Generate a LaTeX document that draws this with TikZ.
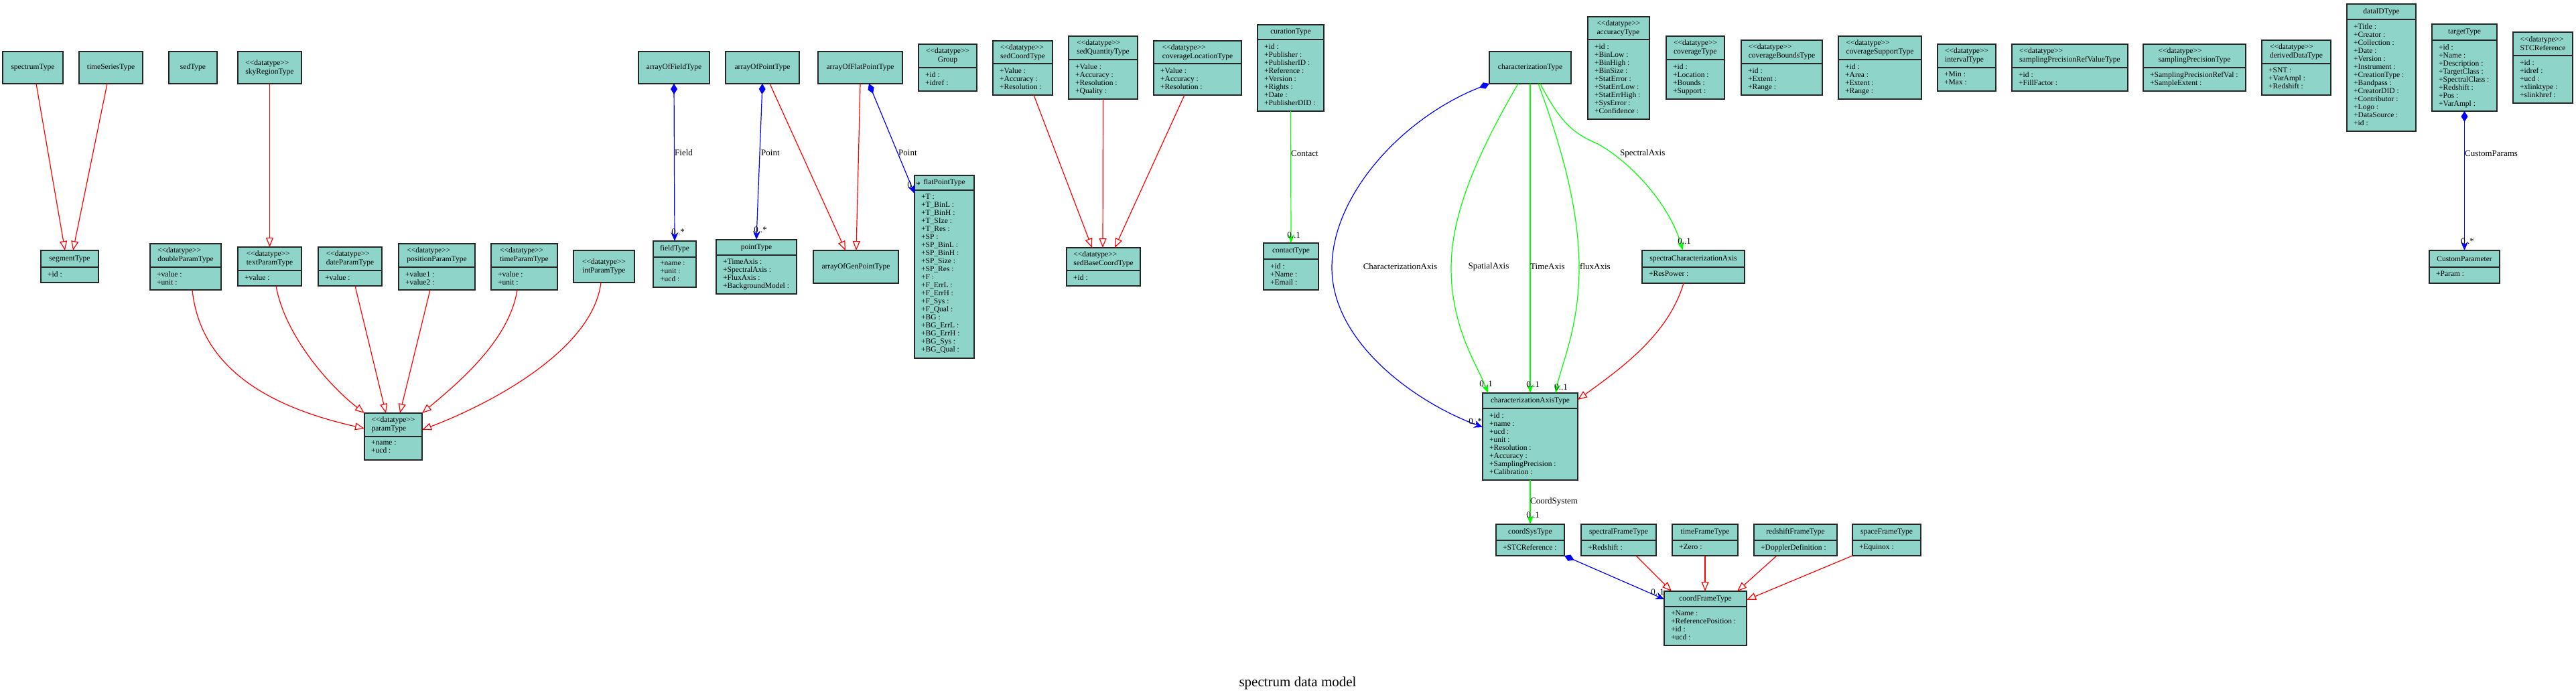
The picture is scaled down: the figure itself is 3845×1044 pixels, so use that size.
\documentclass[tikz,border=0pt]{standalone}
\usepackage{fontspec}
\setmainfont{Liberation Serif}
\usetikzlibrary{arrows.meta}
\definecolor{clsfill}{RGB}{142,212,200}
\newcommand\dtype{<\kern0pt<datatype>\kern0pt>}
\newcommand\umlclass[8]{%
  \pgfmathsetmacro\umlw{#4-#2}%
  \pgfmathsetmacro\umlh{#5-#3}%
  \node[cls, minimum width=\umlw pt, minimum height=\umlh pt, anchor=north west] (#1) at (#2,#3) {};
  \ifx\relax#6\relax
    \node[hdr] (#1-h) at (#1.center) {#7};
  \else
    \draw[sepl] (#2,#6) -- (#4,#6);
    \node[hdr] (#1-h) at ({(#2+#4)/2},{(#3+#6)/2}) {#7};
    \node[attr] (#1-a) at (#2+10,#6+6) {#8};
  \fi}
\begin{document}
\begin{tikzpicture}[x=1pt,y=-1pt,
  cls/.style={draw=black!85, line width=1.6pt, fill=clsfill, inner sep=0pt, outer sep=0pt},
  sepl/.style={draw=black!85, line width=1.6pt},
  hdr/.style={font=\fontsize{11.5}{13}\selectfont, align=left, inner sep=0pt},
  attr/.style={font=\fontsize{11.5}{12}\selectfont, align=left, inner sep=0pt, anchor=north west},
  lbl/.style={font=\fontsize{13}{15}\selectfont, inner sep=0pt},
  gen/.style={draw=red, line width=1.2pt, -{Triangle[open, length=14pt, width=11pt]}},
  comp/.style={draw=blue, line width=1.2pt, {Diamond[length=16pt, width=10pt]}-{Stealth[length=13pt, width=11pt]}},
  assoc/.style={draw=green, line width=1.2pt, -{Stealth[length=13pt, width=10pt]}}]
\useasboundingbox (0,0) rectangle (3845,1044);

% ---------- classes ----------
\umlclass{spectrumType}{4}{77}{94}{125}{}{spectrumType}{}
\umlclass{timeSeriesType}{118}{77}{213}{125}{}{timeSeriesType}{}
\umlclass{sedType}{252}{77}{324}{125}{}{sedType}{}
\umlclass{skyRegionType}{355}{77}{450}{125}{}{\dtype\\skyRegionType}{}
\umlclass{segmentType}{61}{374}{147}{422}{399}{segmentType}{+id :}
\umlclass{doubleParamType}{224}{364}{330}{433}{399}{\dtype\\doubleParamType}{+value :\\+unit :}
\umlclass{textParamType}{355}{369}{450}{427}{404}{\dtype\\textParamType}{+value :}
\umlclass{dateParamType}{475}{369}{570}{427}{404}{\dtype\\dateParamType}{+value :}
\umlclass{positionParamType}{595}{364}{709}{433}{399}{\dtype\\positionParamType}{+value1 :\\+value2 :}
\umlclass{timeParamType}{733}{364}{832}{433}{399}{\dtype\\timeParamType}{+value :\\+unit :}
\umlclass{intParamType}{856}{374}{947}{422}{}{\dtype\\intParamType}{}
\umlclass{paramType}{544}{617}{630}{687}{652}{\dtype\\paramType}{+name :\\+ucd :}
\umlclass{arrayOfFieldType}{953}{77}{1059}{125}{}{arrayOfFieldType}{}
\umlclass{arrayOfPointType}{1083}{77}{1193}{125}{}{arrayOfPointType}{}
\umlclass{arrayOfFlatPointType}{1221}{77}{1347}{125}{}{arrayOfFlatPointType}{}
\umlclass{fieldType}{975}{360}{1039}{429}{384}{fieldType}{+name :\\+unit :\\+ucd :}
\umlclass{pointType}{1069}{358}{1189}{439}{381}{pointType}{+TimeAxis :\\+SpectralAxis :\\+FluxAxis :\\+BackgroundModel :}
\umlclass{arrayOfGenPointType}{1214}{374}{1341}{423}{}{arrayOfGenPointType}{}
\umlclass{flatPointType}{1365}{262}{1454}{535}{284}{flatPointType}{+T :\\+T\_BinL :\\+T\_BinH :\\+T\_SIze :\\+T\_Res :\\+SP :\\+SP\_BinL :\\+SP\_BinH :\\+SP\_Size :\\+SP\_Res :\\+F :\\+F\_ErrL :\\+F\_ErrH :\\+F\_Sys :\\+F\_Qual :\\+BG :\\+BG\_ErrL :\\+BG\_ErrH :\\+BG\_Sys :\\+BG\_Qual :}
\begin{scope}[hdr/.append style={align=center}]
\umlclass{Group}{1371}{66}{1458}{136}{101}{\dtype\\Group}{+id :\\+idref :}
\end{scope}
\umlclass{sedCoordType}{1482}{61}{1571}{142}{95}{\dtype\\sedCoordType}{+Value :\\+Accuracy :\\+Resolution :}
\umlclass{sedQuantityType}{1595}{54}{1698}{148}{89}{\dtype\\sedQuantityType}{+Value :\\+Accuracy :\\+Resolution :\\+Quality :}
\umlclass{coverageLocationType}{1722}{61}{1853}{142}{95}{\dtype\\coverageLocationType}{+Value :\\+Accuracy :\\+Resolution :}
\umlclass{sedBaseCoordType}{1592}{370}{1702}{427}{404}{\dtype\\sedBaseCoordType}{+id :}
\umlclass{curationType}{1877}{37}{1976}{166}{59}{curationType}{+id :\\+Publisher :\\+PublisherID :\\+Reference :\\+Version :\\+Rights :\\+Date :\\+PublisherDID :}
\umlclass{contactType}{1886}{363}{1968}{433}{387}{contactType}{+id :\\+Name :\\+Email :}
\umlclass{characterizationType}{2223}{77}{2345}{125}{}{characterizationType}{}
\umlclass{accuracyType}{2370}{25}{2462}{178}{59}{\dtype\\accuracyType}{+id :\\+BinLow :\\+BinHigh :\\+BinSize :\\+StatError :\\+StatErrLow :\\+StatErrHigh :\\+SysError :\\+Confidence :}
\umlclass{coverageType}{2487}{54}{2574}{148}{89}{\dtype\\coverageType}{+id :\\+Location :\\+Bounds :\\+Support :}
\umlclass{coverageBoundsType}{2599}{60}{2720}{142}{95}{\dtype\\coverageBoundsType}{+id :\\+Extent :\\+Range :}
\umlclass{coverageSupportType}{2744}{54}{2868}{148}{89}{\dtype\\coverageSupportType}{+id :\\+Area :\\+Extent :\\+Range :}
\umlclass{intervalType}{2892}{66}{2979}{136}{101}{\dtype\\intervalType}{+Min :\\+Max :}
\umlclass{samplingPrecisionRefValueType}{3003}{66}{3176}{136}{101}{\dtype\\samplingPrecisionRefValueType}{+id :\\+FillFactor :}
\umlclass{samplingPrecisionType}{3199}{66}{3352}{136}{101}{\dtype\\samplingPrecisionType}{+SamplingPrecisionRefVal :\\+SampleExtent :}
\umlclass{derivedDataType}{3376}{60}{3479}{142}{95}{\dtype\\derivedDataType}{+SNT :\\+VarAmpl :\\+Redshift :}
\umlclass{dataIDType}{3503}{6}{3606}{196}{29}{dataIDType}{+Title :\\+Creator :\\+Collection :\\+Date :\\+Version :\\+Instrument :\\+CreationType :\\+Bandpass :\\+CreatorDID :\\+Contributor :\\+Logo :\\+DataSource :\\+id :}
\umlclass{targetType}{3630}{36}{3727}{166}{60}{targetType}{+id :\\+Name :\\+Description :\\+TargetClass :\\+SpectralClass :\\+Redshift :\\+Pos :\\+VarAmpl :}
\umlclass{STCReference}{3751}{48}{3840}{154}{83}{\dtype\\STCReference}{+id :\\+idref :\\+ucd :\\+xlinktype :\\+slinkhref :}
\umlclass{CustomParameter}{3626}{374}{3731}{423}{399}{CustomParameter}{+Param :}
\umlclass{spectraCharacterizationAxis}{2451}{374}{2604}{423}{399}{spectraCharacterizationAxis}{+ResPower :}
\umlclass{characterizationAxisType}{2213}{587}{2355}{717}{610}{characterizationAxisType}{+id :\\+name :\\+ucd :\\+unit :\\+Resolution :\\+Accuracy :\\+SamplingPrecision :\\+Calibration :}
\umlclass{coordSysType}{2233}{783}{2335}{830}{807}{coordSysType}{+STCReference :}
\umlclass{spectralFrameType}{2360}{783}{2472}{830}{807}{spectralFrameType}{+Redshift :}
\umlclass{timeFrameType}{2496}{783}{2594}{830}{807}{timeFrameType}{+Zero :}
\umlclass{redshiftFrameType}{2618}{783}{2742}{830}{807}{redshiftFrameType}{+DopplerDefinition :}
\umlclass{spaceFrameType}{2765}{783}{2867}{830}{807}{spaceFrameType}{+Equinox :}
\umlclass{coordFrameType}{2484}{883}{2607}{964}{906}{coordFrameType}{+Name :\\+ReferencePosition :\\+id :\\+ucd :}

% ---------- generalizations ----------
\draw[gen] ([xshift=5pt]spectrumType.south) -- ([xshift=-7pt]segmentType.north);
\draw[gen] ([xshift=-5.5pt]timeSeriesType.south) -- ([xshift=5pt]segmentType.north);
\draw[gen] (skyRegionType.south) -- (textParamType.north);
\draw[gen] ([xshift=10pt]doubleParamType.south) .. controls (300,560) and (420,612) .. ([yshift=12pt]paramType.west);
\draw[gen] ([xshift=9.5pt]textParamType.south) .. controls (425,500) and (490,575) .. (paramType.north west);
\draw[gen] ([xshift=7.5pt]dateParamType.south) -- ([xshift=-11pt]paramType.north);
\draw[gen] ([xshift=-10pt]positionParamType.south) -- ([xshift=10pt]paramType.north);
\draw[gen] ([xshift=-10.5pt]timeParamType.south) .. controls (760,510) and (680,575) .. (paramType.north east);
\draw[gen] ([xshift=-4.5pt]intParamType.south) .. controls (885,520) and (740,600) .. ([yshift=10pt]paramType.east);
\draw[gen] ([xshift=11pt]arrayOfPointType.south) -- ([xshift=-15.5pt]arrayOfGenPointType.north);
\draw[gen] (arrayOfFlatPointType.south) -- ([xshift=0.5pt]arrayOfGenPointType.north);
\draw[gen] ([xshift=16.5pt]sedCoordType.south) -- ([xshift=-17pt]sedBaseCoordType.north);
\draw[gen] (sedQuantityType.south) -- ([xshift=-1pt]sedBaseCoordType.north);
\draw[gen] ([xshift=-19.5pt]coverageLocationType.south) -- ([xshift=17pt]sedBaseCoordType.north);
\draw[gen] ([xshift=-14.5pt]spectraCharacterizationAxis.south) .. controls (2490,500) and (2420,550) .. ([yshift=-10pt]characterizationAxisType.north east);
\draw[gen] ([xshift=26pt]spectralFrameType.south) -- ([xshift=-50.5pt]coordFrameType.north);
\draw[gen] (timeFrameType.south) -- ([xshift=-0.5pt]coordFrameType.north);
\draw[gen] ([xshift=-28pt]redshiftFrameType.south) -- ([xshift=47.5pt]coordFrameType.north);
\draw[gen] (spaceFrameType.south west) -- ([yshift=-13pt]coordFrameType.north east);

% ---------- compositions ----------
\draw[comp] (arrayOfFieldType.south) -- (fieldType.north);
\draw[comp] (arrayOfPointType.south) -- (pointType.north);
\draw[comp] ([xshift=13pt]arrayOfFlatPointType.south) -- ([yshift=-27pt]flatPointType.north west);
\draw[comp] (characterizationType.south west) .. controls (2095,175) and (1988,290) .. (1988,400) .. controls (1988,510) and (2110,600) .. ([yshift=14pt]characterizationAxisType.west);
\draw[comp] (targetType.south) -- (CustomParameter.north);
\draw[comp] (coordSysType.south east) -- ([yshift=-12pt]coordFrameType.north west);

% ---------- associations ----------
\draw[assoc] (curationType.south) -- (contactType.north);
\draw[assoc] ([xshift=-18pt]characterizationType.south) .. controls (2205,230) and (2166,320) .. (2166,400) .. controls (2166,490) and (2205,545) .. ([xshift=-63pt]characterizationAxisType.north);
\draw[assoc] (characterizationType.south) -- (characterizationAxisType.north);
\draw[assoc] ([xshift=12pt]characterizationType.south) .. controls (2335,230) and (2357,320) .. (2357,400) .. controls (2357,490) and (2330,545) .. ([xshift=38pt]characterizationAxisType.north);
\draw[assoc] ([xshift=15pt]characterizationType.south) .. controls (2330,185) and (2350,200) .. (2385,215) .. controls (2430,240) and (2490,300) .. ([xshift=-15.5pt]spectraCharacterizationAxis.north);
\draw[assoc] (characterizationAxisType.south) -- (coordSysType.north);

% ---------- role labels ----------
\node[lbl, anchor=west] (lField) at (1007,228) {Field};
\node[lbl, anchor=west] (lPoint1) at (1136,228) {Point};
\node[lbl, anchor=west] (lPoint2) at (1341,228) {Point};
\node[lbl, anchor=west] (lContact) at (1927,229) {Contact};
\node[lbl, anchor=west] (lCustom) at (3679,229) {CustomParams};
\node[lbl, anchor=west] (lCoordSys) at (2284,749) {CoordSystem};
\node[lbl, anchor=west] (lSpectral) at (2418,229) {SpectralAxis};
\node[lbl] (lCharAxis) at (2090,398) {CharacterizationAxis};
\node[lbl] (lSpatial) at (2222,398) {SpatialAxis};
\node[lbl, anchor=west] (lTime) at (2284,398) {TimeAxis};
\node[lbl, anchor=west] (lFlux) at (2358,398) {fluxAxis};

% ---------- multiplicities ----------
\node[lbl] (mField) at (1012,346) {0..*};
\node[lbl] (mPoint) at (1135,343) {0..*};
\node[lbl] (mFlat) at (1364,276) {0..*};
\node[lbl] (mContact) at (1931,351) {0..1};
\node[lbl] (mSpatial) at (2218,573) {0..1};
\node[lbl] (mTime) at (2288,574) {0..1};
\node[lbl] (mFlux) at (2330,578) {0..1};
\node[lbl] (mCharAxis) at (2202,629) {0..*};
\node[lbl] (mSpectra) at (2514,360) {0..1};
\node[lbl] (mCoordSys) at (2288,769) {0..1};
\node[lbl] (mCoordFrame) at (2474,884) {0..1};
\node[lbl] (mCustom) at (3683,360) {0..*};

% ---------- title ----------
\node[font=\fontsize{21}{24}\selectfont, inner sep=0pt] (title) at (1937,1020) {spectrum data model};
\end{tikzpicture}
\end{document}
